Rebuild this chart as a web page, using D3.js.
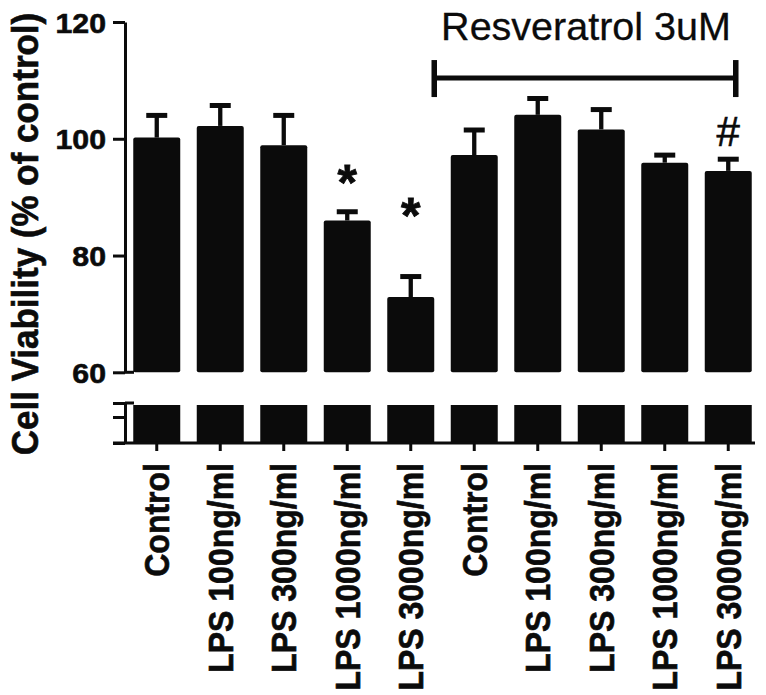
<!DOCTYPE html>
<html><head><meta charset="utf-8">
<script src="https://cdn.jsdelivr.net/npm/d3@7"></script>
<style>body{margin:0;background:#fff}svg{display:block}text{font-family:"Liberation Sans",Arial,Helvetica,sans-serif}</style>
</head><body><svg id="c" width="766" height="695"></svg>
<script>
const categories = ["Control","LPS 100ng/ml","LPS 300ng/ml","LPS 1000ng/ml","LPS 3000ng/ml","Control","LPS 100ng/ml","LPS 300ng/ml","LPS 1000ng/ml","LPS 3000ng/ml"];
const means = [100.2, 102.2, 98.9, 86.0, 72.9, 97.2, 104.1, 101.6, 95.9, 94.5];
const sems  = [3.8, 3.5, 5.1, 1.5, 3.5, 4.3, 2.8, 3.4, 1.3, 2.0];
const yTicks = [60, 80, 100, 120];
const lowTicks = [0, 13, 20];
const markLabels = ["*", "*", "#"];
const markIndex = [3, 4, 9];
const markValue = [94.3, 88.5, 101.3];
const groupLabel = "Resveratrol 3uM";
const groupFrom = 5, groupTo = 9;
const groupValue = 110.4, groupLabelValue = 116.9;
const yTitle = "Cell Viability (% of control)";

const svg = d3.select("#c");
const ink = "#0b0b0b";
const idx = d3.range(categories.length);
const x = d3.scaleBand().domain(idx).range([125, 760]).paddingInner(0.26).paddingOuter(0.13);
const bw = x.bandwidth();
const yUp = d3.scaleLinear().domain([60, 120]).range([372.3, 22]);
const yLow = d3.scaleLinear().domain([0, 20]).range([443, 403]);

// bars upper segment
svg.append("g").selectAll("rect").data(idx).join("rect")
  .attr("x", i => x(i)).attr("width", bw)
  .attr("y", i => yUp(means[i])).attr("height", i => yUp(60) - yUp(means[i]))
  .attr("rx", 2).attr("fill", ink);
// bars lower segment
svg.append("g").selectAll("rect").data(idx).join("rect")
  .attr("x", i => x(i)).attr("width", bw)
  .attr("y", yLow(19)).attr("height", yLow(0) - yLow(19))
  .attr("fill", ink);

// error bars
const eb = svg.append("g").attr("stroke", ink);
eb.selectAll("line.s").data(idx).join("line").attr("class","s")
  .attr("x1", i => x(i) + bw/2).attr("x2", i => x(i) + bw/2)
  .attr("y1", i => yUp(means[i])).attr("y2", i => yUp(means[i] + sems[i]))
  .attr("stroke-width", 4.3);
eb.selectAll("line.c").data(idx).join("line").attr("class","c")
  .attr("x1", i => x(i) + bw/2 - 10.5).attr("x2", i => x(i) + bw/2 + 10.5)
  .attr("y1", i => yUp(means[i] + sems[i])).attr("y2", i => yUp(means[i] + sems[i]))
  .attr("stroke-width", 5);

// y axis upper
const ax = svg.append("g").attr("transform", "translate(125,0)");
ax.call(d3.axisLeft(yUp).tickValues(yTicks).tickSize(12).tickPadding(6).tickSizeOuter(0));
ax.select(".domain").attr("stroke", ink).attr("stroke-width", 3);
ax.selectAll(".tick line").attr("stroke", ink).attr("stroke-width", 3);
ax.selectAll(".tick text").attr("font-size", 28).attr("font-weight", "bold").attr("fill", ink)
  .attr("stroke", ink).attr("stroke-width", 0.6)
  .attr("font-family", '"Liberation Sans",Arial,sans-serif')
  .attr("text-anchor", "end").attr("x", 0).attr("dy", "0.36em")
  .attr("transform", "translate(-19,0) scale(1.08,1)");
// small break extension at 60
svg.append("line").attr("x1", 125).attr("x2", 134).attr("y1", yUp(60)).attr("y2", yUp(60)).attr("stroke", ink).attr("stroke-width", 3);

// y axis lower
const axl = svg.append("g").attr("transform", "translate(125,0)");
axl.call(d3.axisLeft(yLow).tickValues(lowTicks).tickSize(12).tickFormat("").tickSizeOuter(0));
axl.select(".domain").attr("stroke", ink).attr("stroke-width", 3);
axl.selectAll(".tick line").attr("stroke", ink).attr("stroke-width", 3);
svg.append("line").attr("x1", 125).attr("x2", 134).attr("y1", yLow(20)).attr("y2", yLow(20)).attr("stroke", ink).attr("stroke-width", 3);

// x axis
const xa = svg.append("g").attr("transform", `translate(0,${yLow(0)})`);
xa.call(d3.axisBottom(x).tickSize(8).tickSizeOuter(0).tickFormat(i => categories[i]));
xa.select(".domain").remove();
xa.selectAll(".tick line").attr("stroke", ink).attr("stroke-width", 3);
xa.selectAll(".tick text").attr("font-size", 32).attr("font-weight", "bold").attr("fill", ink)
  .attr("stroke", ink).attr("stroke-width", 0.6)
  .attr("font-family", '"Liberation Sans",Arial,sans-serif')
  .attr("text-anchor", "end").attr("transform", "rotate(-90) scale(1,1.09)")
  .attr("x", -20).attr("y", 0).attr("dy", "0.36em");
svg.append("line").attr("x1", 113).attr("x2", 755).attr("y1", yLow(0)).attr("y2", yLow(0)).attr("stroke", ink).attr("stroke-width", 3);

// y title
svg.append("text").attr("transform", `translate(24,234) rotate(-90) scale(1,1.08)`)
  .attr("text-anchor", "middle").attr("dy", "0.36em").attr("font-size", 35).attr("font-weight", "bold").attr("fill", ink)
  .attr("stroke", ink).attr("stroke-width", 0.6)
  .text(yTitle);

// significance marks
svg.append("g").selectAll("text").data(markIndex.map((d, k) => k)).join("text")
  .attr("x", k => x(markIndex[k]) + bw/2)
  .attr("y", k => yUp(markValue[k]))
  .attr("text-anchor", "middle")
  .attr("dy", k => markLabels[k] === "*" ? "0.55em" : "0.36em")
  .attr("font-size", k => markLabels[k] === "*" ? 50 : 42)
  .attr("font-weight", k => markLabels[k] === "*" ? "bold" : "normal")
  .attr("stroke", ink).attr("stroke-width", k => markLabels[k] === "*" ? 0.8 : 0.6)
  .attr("fill", ink)
  .text(k => markLabels[k]);

// group bracket
const bx1 = x(groupFrom - 1) + bw, bx2 = x(groupTo) + bw * 0.66;
const by = yUp(groupValue);
const br = svg.append("g").attr("stroke", ink);
br.append("line").attr("x1", bx1).attr("x2", bx2).attr("y1", by).attr("y2", by).attr("stroke-width", 5);
br.append("line").attr("x1", bx1).attr("x2", bx1).attr("y1", by - 18).attr("y2", by + 19).attr("stroke-width", 5.5);
br.append("line").attr("x1", bx2).attr("x2", bx2).attr("y1", by - 18).attr("y2", by + 19).attr("stroke-width", 5.5);
svg.append("text").attr("x", (bx1 + bx2) / 2 + 1).attr("y", yUp(groupLabelValue))
  .attr("text-anchor", "middle").attr("font-size", 39.5).attr("fill", ink)
  .attr("stroke", ink).attr("stroke-width", 0.3)
  .text(groupLabel);
</script></body></html>
